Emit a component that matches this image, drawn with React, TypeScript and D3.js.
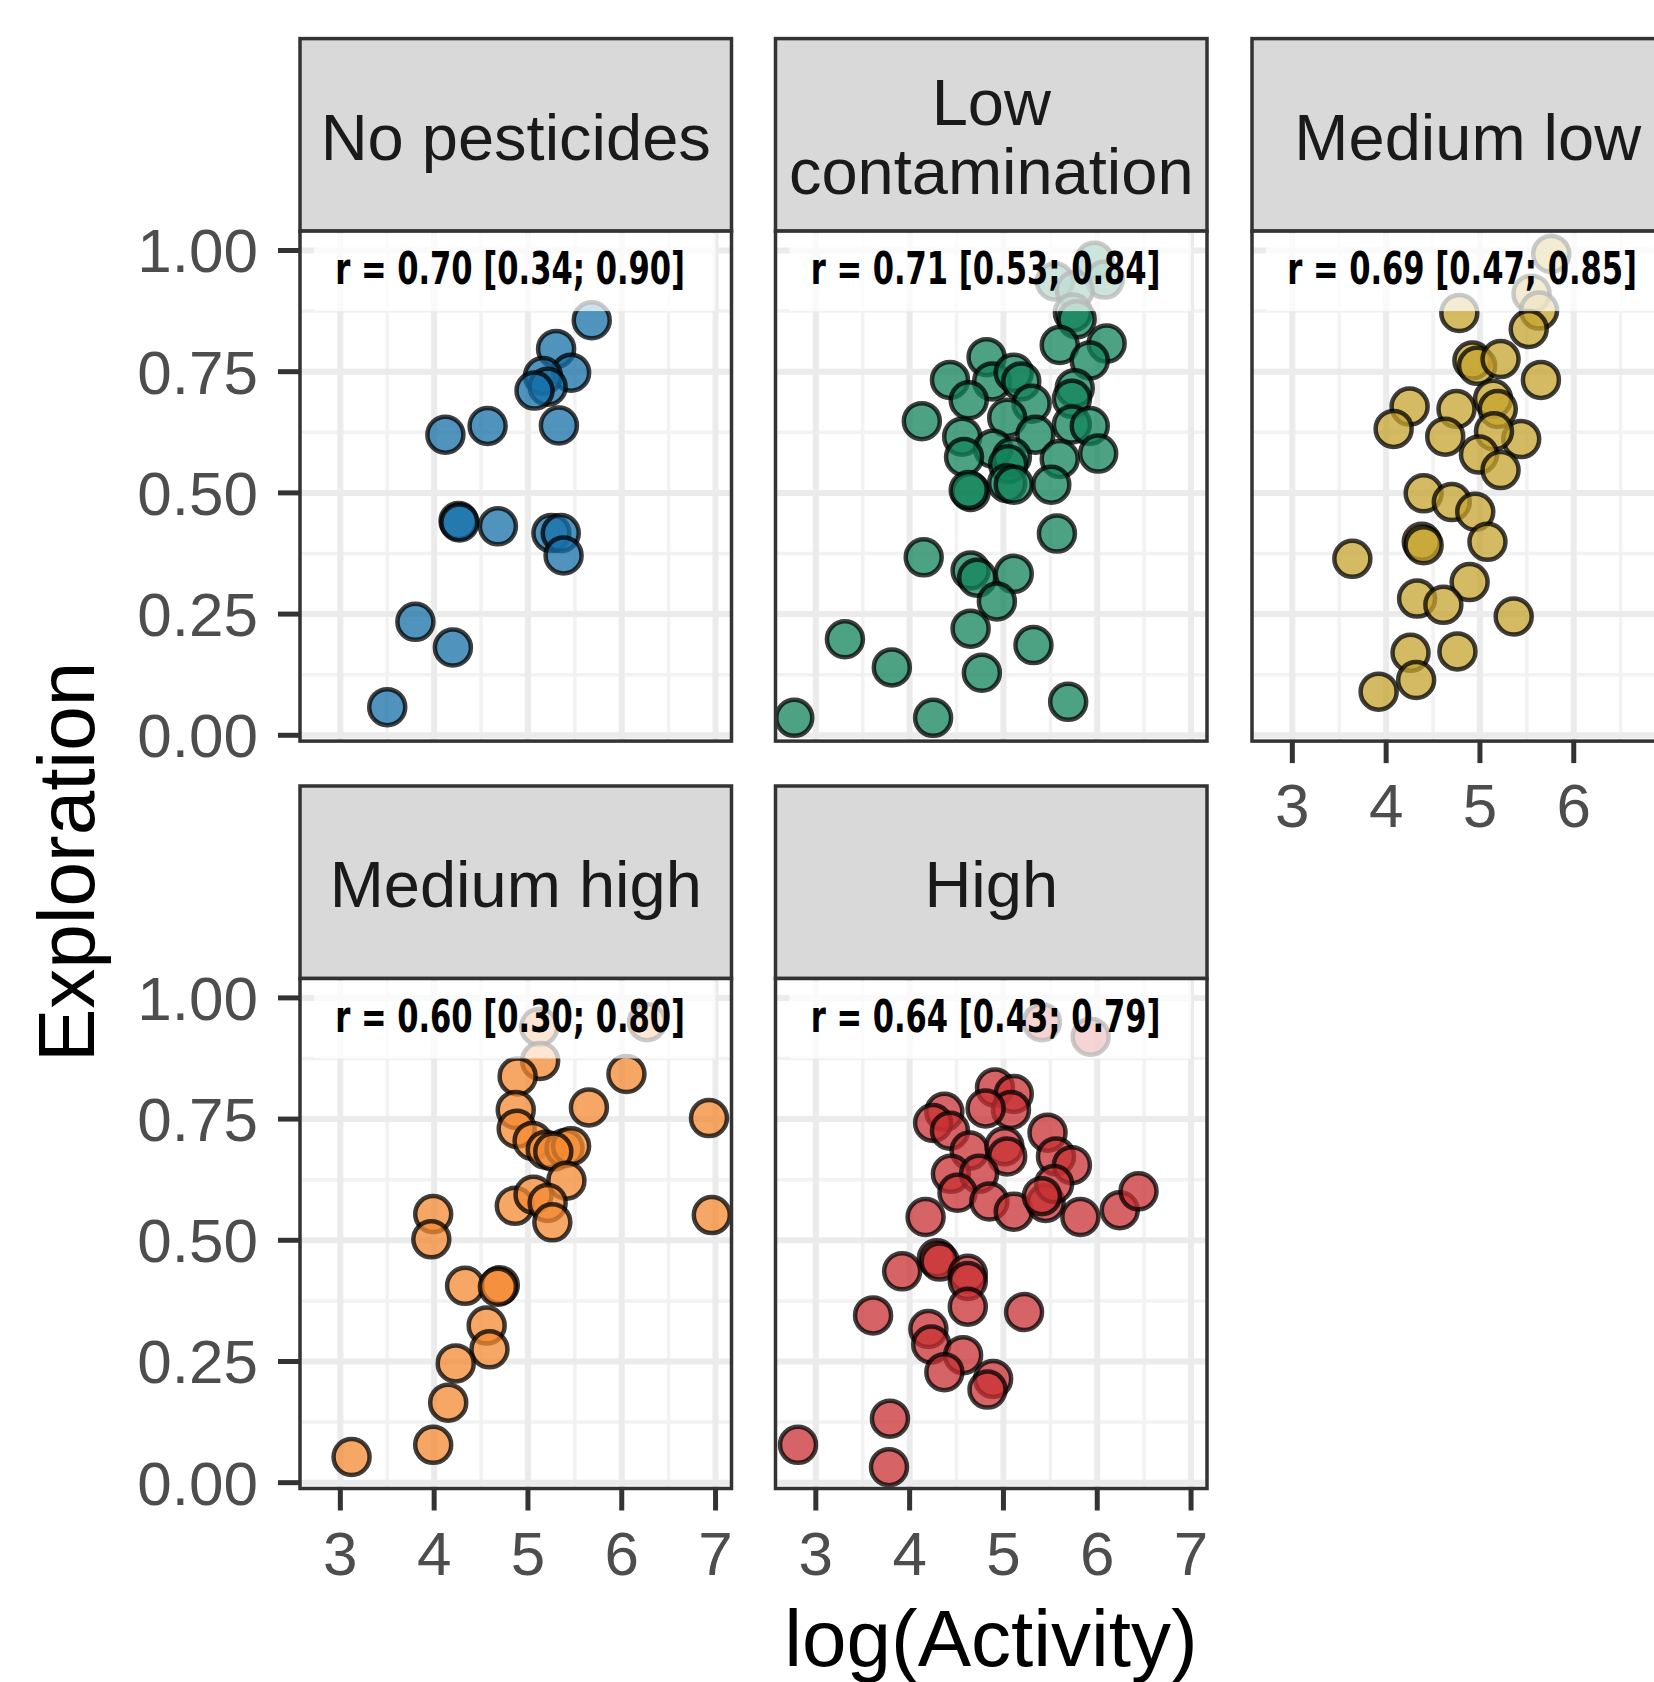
import React, { useEffect, useRef } from "react";
import * as d3 from "d3";

type Pt = [number, number];

// log(Activity), Exploration
const noPesticides: Pt[] = [
  [5.68, 0.856], [5.3, 0.797], [5.46, 0.748], [5.16, 0.741], [5.21, 0.719],
  [5.07, 0.711], [5.33, 0.639], [4.12, 0.62], [4.57, 0.638], [4.26, 0.442],
  [4.27, 0.439], [4.68, 0.431], [5.25, 0.417], [5.35, 0.417], [5.38, 0.371],
  [3.8, 0.234], [4.2, 0.181], [3.5, 0.058],
];

const lowContamination: Pt[] = [
  [5.97, 0.979], [6.08, 0.94], [5.55, 0.936], [5.76, 0.918], [5.74, 0.872],
  [5.78, 0.858], [5.6, 0.805], [6.1, 0.808], [5.92, 0.773], [4.82, 0.78],
  [4.43, 0.733], [4.88, 0.73], [5.11, 0.748], [5.19, 0.73], [4.63, 0.691],
  [5.3, 0.684], [5.76, 0.716], [5.73, 0.694], [4.13, 0.648], [5.04, 0.655],
  [4.56, 0.616], [5.34, 0.62], [5.73, 0.641], [5.92, 0.638], [4.89, 0.591],
  [4.58, 0.574], [5.09, 0.574], [5.05, 0.559], [5.6, 0.57], [6.01, 0.581],
  [4.65, 0.502], [4.63, 0.506], [5.04, 0.52], [5.11, 0.517], [5.51, 0.517],
  [5.57, 0.416], [4.15, 0.367], [4.65, 0.34], [4.72, 0.325], [5.11, 0.333],
  [4.93, 0.276], [4.65, 0.22], [5.32, 0.186], [3.31, 0.198], [3.81, 0.14],
  [4.77, 0.129], [5.69, 0.069], [2.77, 0.036], [4.25, 0.036],
];

const mediumLow: Pt[] = [
  [5.76, 0.993], [5.55, 0.911], [5.63, 0.876], [4.78, 0.871], [5.52, 0.838],
  [4.92, 0.773], [4.97, 0.762], [5.22, 0.776], [5.65, 0.733], [4.25, 0.678],
  [4.75, 0.673], [5.14, 0.694], [5.19, 0.673], [4.08, 0.632], [4.63, 0.616],
  [5.44, 0.611], [5.15, 0.627], [4.99, 0.579], [5.22, 0.547], [4.4, 0.499],
  [4.7, 0.481], [4.95, 0.461], [5.08, 0.399], [4.38, 0.399], [4.4, 0.392],
  [3.64, 0.364], [4.89, 0.316], [4.33, 0.282], [4.61, 0.269], [5.36, 0.245],
  [4.26, 0.17], [4.76, 0.173], [4.32, 0.114], [3.92, 0.09],
];

const mediumHigh: Pt[] = [
  [5.12, 0.94], [6.27, 0.95], [5.13, 0.87], [4.89, 0.838], [6.05, 0.843],
  [5.65, 0.774], [4.87, 0.769], [6.93, 0.752], [4.88, 0.73], [5.05, 0.705],
  [5.19, 0.687], [5.39, 0.69], [5.46, 0.694], [5.27, 0.683], [5.41, 0.623],
  [4.86, 0.571], [5.06, 0.594], [5.21, 0.577], [5.26, 0.537], [6.96, 0.552],
  [3.99, 0.554], [3.97, 0.502], [4.33, 0.406], [4.7, 0.407], [4.68, 0.404],
  [4.56, 0.324], [4.59, 0.275], [4.23, 0.246], [4.15, 0.165], [3.99, 0.078],
  [3.12, 0.053],
];

const high: Pt[] = [
  [5.41, 0.95], [5.93, 0.92], [4.91, 0.815], [5.11, 0.802], [5.08, 0.769],
  [4.81, 0.772], [4.37, 0.765], [4.25, 0.742], [4.43, 0.726], [5.47, 0.722],
  [4.64, 0.685], [5.01, 0.694], [5.04, 0.673], [5.56, 0.673], [5.73, 0.655],
  [4.44, 0.637], [4.74, 0.637], [4.51, 0.598], [4.85, 0.58], [5.11, 0.559],
  [5.45, 0.577], [5.54, 0.616], [5.41, 0.591], [5.82, 0.548], [6.24, 0.562],
  [6.44, 0.601], [4.17, 0.548], [4.29, 0.463], [4.32, 0.456], [3.92, 0.436],
  [4.62, 0.431], [4.62, 0.416], [4.62, 0.363], [5.22, 0.352], [3.61, 0.345],
  [4.2, 0.317], [4.23, 0.285], [4.57, 0.263], [4.37, 0.228], [4.89, 0.214],
  [4.83, 0.192], [3.79, 0.132], [2.81, 0.078], [3.78, 0.032],
];

const panelTitles: string[][] = [
  ["No pesticides"],
  ["Low", "contamination"],
  ["Medium low"],
  ["Medium high"],
  ["High"],
];
const rLabels = [
  "r = 0.70 [0.34; 0.90]",
  "r = 0.71 [0.53; 0.84]",
  "r = 0.69 [0.47; 0.85]",
  "r = 0.60 [0.30; 0.80]",
  "r = 0.64 [0.43; 0.79]",
];
const panelData = [noPesticides, lowContamination, mediumLow, mediumHigh, high];
const fills = ["#1570A8", "#118359", "#C5A32D", "#F48931", "#C83033"];

const xTicks = [3, 4, 5, 6, 7];
const xMinor = [3.5, 4.5, 5.5, 6.5];
const yTicks = [0, 0.25, 0.5, 0.75, 1];
const yMinor = [0.125, 0.375, 0.625, 0.875];

const W = 1654;
const H = 1682;
const FONT = "'Liberation Sans', Arial, Helvetica, sans-serif";

const App: React.FC = () => {
  const svgRef = useRef<SVGSVGElement>(null);

  useEffect(() => {
    document.body.style.margin = "0";
    if (!svgRef.current) return;
    const svg = d3.select(svgRef.current);
    svg.selectAll("*").remove();

    const colLeft = [300, 775.5, 1252];
    const panelW = 431.5;
    const stripTop = [38.6, 786];
    const stripH = 192.5;
    const panelH = 510;
    const labelWidth = 350;

    const layout = [
      { col: 0, row: 0 },
      { col: 1, row: 0 },
      { col: 2, row: 0 },
      { col: 0, row: 1 },
      { col: 1, row: 1 },
    ];

    layout.forEach(({ col, row }, i) => {
      const left = colLeft[col];
      const sTop = stripTop[row];
      const pTop = sTop + stripH;
      const pBottom = pTop + panelH;

      const x = d3.scaleLinear().domain([2.57, 7.17]).range([left, left + panelW]);
      const y = d3.scaleLinear().domain([-0.012, 1.04]).range([pBottom, pTop]);

      const g = svg.append("g");

      // Strip
      g.append("rect")
        .attr("x", left)
        .attr("y", sTop)
        .attr("width", panelW)
        .attr("height", stripH)
        .attr("fill", "#d9d9d9")
        .attr("stroke", "#333333")
        .attr("stroke-width", 3.5);

      const lines = panelTitles[i];
      const cy = sTop + stripH / 2 + 25;
      lines.forEach((t, k) => {
        g.append("text")
          .attr("x", left + panelW / 2)
          .attr("y", cy + (k - (lines.length - 1) / 2) * 69)
          .attr("text-anchor", "middle")
          .attr("font-family", FONT)
          .attr("font-size", 65)
          .attr("fill", "#1a1a1a")
          .text(t);
      });

      // Panel background + grid
      g.append("rect")
        .attr("x", left)
        .attr("y", pTop)
        .attr("width", panelW)
        .attr("height", panelH)
        .attr("fill", "#ffffff");

      const grid = g.append("g");
      grid.selectAll(".vminor")
        .data(xMinor)
        .enter()
        .append("line")
        .attr("x1", (d) => x(d))
        .attr("x2", (d) => x(d))
        .attr("y1", pTop)
        .attr("y2", pBottom)
        .attr("stroke", "#f2f2f2")
        .attr("stroke-width", 3.5);
      grid.selectAll(".hminor")
        .data(yMinor)
        .enter()
        .append("line")
        .attr("x1", left)
        .attr("x2", left + panelW)
        .attr("y1", (d) => y(d))
        .attr("y2", (d) => y(d))
        .attr("stroke", "#f2f2f2")
        .attr("stroke-width", 3.5);
      grid.selectAll(".vmajor")
        .data(xTicks)
        .enter()
        .append("line")
        .attr("x1", (d) => x(d))
        .attr("x2", (d) => x(d))
        .attr("y1", pTop)
        .attr("y2", pBottom)
        .attr("stroke", "#ebebeb")
        .attr("stroke-width", 6);
      grid.selectAll(".hmajor")
        .data(yTicks)
        .enter()
        .append("line")
        .attr("x1", left)
        .attr("x2", left + panelW)
        .attr("y1", (d) => y(d))
        .attr("y2", (d) => y(d))
        .attr("stroke", "#ebebeb")
        .attr("stroke-width", 6);

      // Points
      g.append("g")
        .selectAll("circle")
        .data(panelData[i])
        .enter()
        .append("circle")
        .attr("cx", (d) => x(d[0]))
        .attr("cy", (d) => y(d[1]))
        .attr("r", 18)
        .attr("fill", fills[i])
        .attr("fill-opacity", 0.75)
        .attr("stroke", "#000000")
        .attr("stroke-opacity", 0.75)
        .attr("stroke-width", 4.5);

      // Panel border
      g.append("rect")
        .attr("x", left)
        .attr("y", pTop)
        .attr("width", panelW)
        .attr("height", panelH)
        .attr("fill", "none")
        .attr("stroke", "#333333")
        .attr("stroke-width", 3.5);

      // Label box + correlation text
      g.append("rect")
        .attr("x", left + 14)
        .attr("y", pTop + 2.5)
        .attr("width", panelW - 30)
        .attr("height", y(0.875) - pTop - 2.5)
        .attr("fill", "#ffffff")
        .attr("opacity", 0.72);

      const label = g.append("text")
        .attr("text-anchor", "middle")
        .attr("font-family", "'Liberation Sans Narrow', 'DejaVu Sans Condensed', sans-serif")
        .attr("font-weight", "bold")
        .attr("font-size", 45)
        .attr("fill", "#000000")
        .text(rLabels[i]);
      const natural = (label.node() as SVGTextElement).getComputedTextLength() || labelWidth;
      const sx = Math.min(1, labelWidth / natural);
      label.attr("transform", `translate(${x(4.81)},${y(0.93)}) scale(${sx},1)`);

      // Y axis on the first column
      if (col === 0) {
        const ax = g.append("g");
        ax.selectAll("line")
          .data(yTicks)
          .enter()
          .append("line")
          .attr("x1", left - 22)
          .attr("x2", left)
          .attr("y1", (d) => y(d))
          .attr("y2", (d) => y(d))
          .attr("stroke", "#333333")
          .attr("stroke-width", 5);
        ax.selectAll("text")
          .data(yTicks)
          .enter()
          .append("text")
          .attr("x", left - 42)
          .attr("y", (d) => y(d) + 22)
          .attr("text-anchor", "end")
          .attr("font-family", FONT)
          .attr("font-size", 62)
          .attr("fill", "#4d4d4d")
          .text((d) => d3.format(".2f")(d));
      }

      // X axis on the bottom-most panel in each column
      if (row === 1 || col === 2) {
        const visible = xTicks.filter((d) => x(d) + 20 < W);
        const ax = g.append("g");
        ax.selectAll("line")
          .data(visible)
          .enter()
          .append("line")
          .attr("x1", (d) => x(d))
          .attr("x2", (d) => x(d))
          .attr("y1", pBottom)
          .attr("y2", pBottom + 22)
          .attr("stroke", "#333333")
          .attr("stroke-width", 5);
        ax.selectAll("text")
          .data(visible)
          .enter()
          .append("text")
          .attr("x", (d) => x(d))
          .attr("y", pBottom + 86)
          .attr("text-anchor", "middle")
          .attr("font-family", FONT)
          .attr("font-size", 62)
          .attr("fill", "#4d4d4d")
          .text((d) => String(d));
      }
    });

    // Axis titles
    svg.append("text")
      .attr("transform", "translate(94, 862) rotate(-90)")
      .attr("text-anchor", "middle")
      .attr("font-family", FONT)
      .attr("font-size", 80)
      .attr("fill", "#000000")
      .text("Exploration");

    svg.append("text")
      .attr("x", 991)
      .attr("y", 1666)
      .attr("text-anchor", "middle")
      .attr("font-family", FONT)
      .attr("font-size", 80)
      .attr("fill", "#000000")
      .text("log(Activity)");
  }, []);

  return (
    <svg
      ref={svgRef}
      width={W}
      height={H}
      viewBox={`0 0 ${W} ${H}`}
      style={{ display: "block", background: "#ffffff", overflow: "hidden" }}
    />
  );
};

export default App;
